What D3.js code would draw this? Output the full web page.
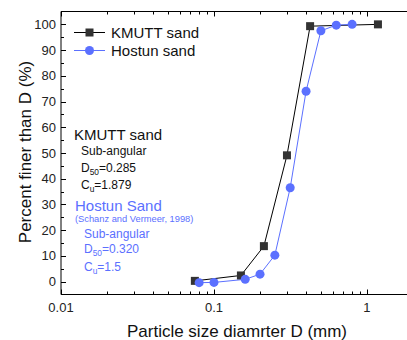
<!DOCTYPE html>
<html>
<head>
<meta charset="utf-8">
<script src="https://cdn.jsdelivr.net/npm/d3@7"></script>
<style>
  body { margin: 0; background: #fff; }
  text { font-family: "Liberation Sans", Arial, sans-serif; }
</style>
</head>
<body>
<div id="chart"></div>
<script>
// sieve sizes (mm) and percent passing
var kmuttSize = [0.075, 0.15, 0.212, 0.3, 0.425, 1.18]
var kmuttPass = [0.3, 2.4, 13.8, 49.1, 99.3, 100]
var hostunSize = [0.08, 0.1, 0.16, 0.2, 0.25, 0.315, 0.4, 0.5, 0.63, 0.8]
var hostunPass = [-0.4, -0.3, 0.9, 2.9, 10.3, 36.5, 74, 97.5, 99.7, 100]

var yTicks = [0, 10, 20, 30, 40, 50, 60, 70, 80, 90, 100]
var xTicks = [0.01, 0.1, 1]

var black = '#000'
var dark = '#333'
var blue = '#5b70ff'

const width = 407
const height = 340

var svg = d3.select('#chart')
  .append('svg')
  .attr('width', width)
  .attr('height', height)

// plot frame: right side runs off the picture
var plotLeft = 61, plotTop = 11.5, plotRight = 413, plotBottom = 294.5

var x = d3.scaleLog().domain([0.01, 2]).range([plotLeft, plotRight])
var y = d3.scaleLinear().domain([-5, 105]).range([plotBottom, plotTop])

// minor ticks for log axis
var xMinor = []
;[0.01, 0.1, 1].forEach(function (dec) {
  for (var k = 2; k <= 9; k++) {
    if (dec * k <= 2) xMinor.push(dec * k)
  }
})
var yMinor = [5, 15, 25, 35, 45, 55, 65, 75, 85, 95]

var axisG = svg.append('g').attr('stroke', black).attr('stroke-width', 1)

// frame lines
axisG.append('line').attr('x1', plotLeft).attr('x2', plotLeft).attr('y1', plotTop).attr('y2', plotBottom)
axisG.append('line').attr('x1', plotLeft).attr('x2', plotRight).attr('y1', plotBottom).attr('y2', plotBottom)
axisG.append('line').attr('x1', plotLeft).attr('x2', plotRight).attr('y1', plotTop).attr('y2', plotTop)

// inward ticks on bottom and top
xTicks.concat(xMinor).forEach(function (v) {
  var len = xTicks.indexOf(v) >= 0 ? 5 : 3
  var px = Math.round(x(v)) + 0.5
  axisG.append('line').attr('x1', px).attr('x2', px).attr('y1', plotBottom).attr('y2', plotBottom - len)
  axisG.append('line').attr('x1', px).attr('x2', px).attr('y1', plotTop).attr('y2', plotTop + len)
})

// inward ticks on left
yTicks.forEach(function (v) {
  var py = Math.round(y(v)) + 0.5
  axisG.append('line').attr('x1', plotLeft).attr('x2', plotLeft + 5).attr('y1', py).attr('y2', py)
})
yMinor.forEach(function (v) {
  var py = Math.round(y(v)) + 0.5
  axisG.append('line').attr('x1', plotLeft).attr('x2', plotLeft + 3).attr('y1', py).attr('y2', py)
})

// tick labels
svg.append('g').selectAll('text')
  .data(yTicks)
  .enter()
  .append('text')
  .attr('x', plotLeft - 5)
  .attr('y', d => y(d) + 4.5)
  .attr('text-anchor', 'end')
  .attr('font-size', 13)
  .attr('fill', '#222')
  .text(d => d)

svg.append('g').selectAll('text')
  .data(xTicks)
  .enter()
  .append('text')
  .attr('x', d => x(d))
  .attr('y', plotBottom + 17)
  .attr('text-anchor', 'middle')
  .attr('font-size', 13)
  .attr('fill', '#222')
  .text(d => String(d))

// axis titles
svg.append('text')
  .attr('x', 237)
  .attr('y', 337)
  .attr('text-anchor', 'middle')
  .attr('font-size', 17)
  .attr('fill', '#111')
  .text('Particle size diamrter D (mm)')

svg.append('text')
  .attr('transform', 'translate(31,152) rotate(-90)')
  .attr('text-anchor', 'middle')
  .attr('font-size', 17)
  .attr('fill', '#111')
  .text('Percent finer than D (%)')

// series
var kmutt = kmuttSize.map((d, i) => [d, kmuttPass[i]])
var hostun = hostunSize.map((d, i) => [d, hostunPass[i]])
var line = d3.line().x(d => x(d[0])).y(d => y(d[1]))

svg.append('path').datum(kmutt)
  .attr('d', line).attr('fill', 'none').attr('stroke', black).attr('stroke-width', 1)
svg.append('path').datum(hostun)
  .attr('d', line).attr('fill', 'none').attr('stroke', blue).attr('stroke-width', 1)

svg.selectAll('.sq').data(kmutt).enter().append('rect')
  .attr('x', d => x(d[0]) - 4).attr('y', d => y(d[1]) - 4)
  .attr('width', 8).attr('height', 8).attr('fill', dark)

svg.selectAll('.ci').data(hostun).enter().append('circle')
  .attr('cx', d => x(d[0])).attr('cy', d => y(d[1]))
  .attr('r', 4.5).attr('fill', blue)

// legend
var legend = svg.append('g')
legend.append('line').attr('x1', 74).attr('x2', 105).attr('y1', 32.5).attr('y2', 32.5).attr('stroke', black)
legend.append('rect').attr('x', 85.5).attr('y', 28.5).attr('width', 8).attr('height', 8).attr('fill', dark)
legend.append('text').attr('x', 111).attr('y', 38).attr('font-size', 15).attr('fill', '#111').text('KMUTT sand')
legend.append('line').attr('x1', 74).attr('x2', 105).attr('y1', 50.5).attr('y2', 50.5).attr('stroke', blue)
legend.append('circle').attr('cx', 89.5).attr('cy', 50.5).attr('r', 4.5).attr('fill', blue)
legend.append('text').attr('x', 111).attr('y', 56).attr('font-size', 15).attr('fill', '#111').text('Hostun sand')

// annotations
function note(tx, ty, size, color, main, sub, rest) {
  var t = svg.append('text').attr('x', tx).attr('y', ty).attr('font-size', size).attr('fill', color)
  t.append('tspan').text(main)
  if (sub) {
    t.append('tspan').attr('font-size', size * 0.7).attr('dy', 3).text(sub)
    t.append('tspan').attr('dy', -3).text(rest)
  }
}
note(74, 139.5, 15, '#111', 'KMUTT sand')
note(81, 155, 12, '#111', 'Sub-angular')
note(81, 172, 12, '#111', 'D', '50', '=0.285')
note(81, 189, 12, '#111', 'C', 'u', '=1.879')

note(75, 210.5, 15, blue, 'Hostun Sand')
note(75, 222, 9.3, blue, '(Schanz and Vermeer, 1998)')
note(84, 238, 12, blue, 'Sub-angular')
note(84, 253, 12, blue, 'D', '50', '=0.320')
note(84, 270.5, 12, blue, 'C', 'u', '=1.5')
</script>
</body>
</html>
